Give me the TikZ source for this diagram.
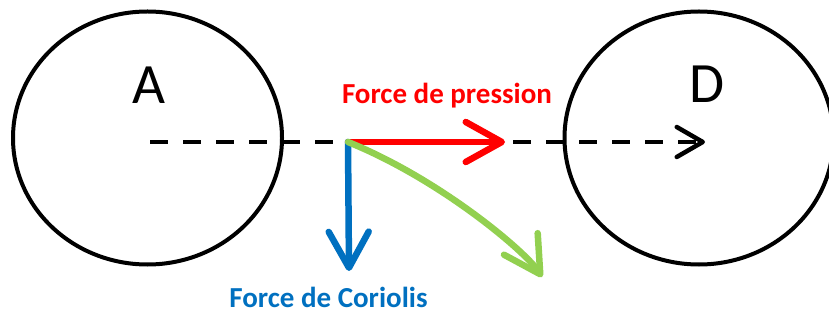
\documentclass[tikz,border=0pt]{standalone}
\usepackage{fontspec}
\setmainfont{Carlito}
\usetikzlibrary{arrows.meta,shapes.geometric}
\definecolor{forcered}{RGB}{255,0,0}
\definecolor{forceblue}{RGB}{0,112,192}
\definecolor{forcegreen}{RGB}{146,208,80}
\begin{document}
\begin{tikzpicture}[x=1pt,y=-1pt,
  zone/.style={ellipse,draw=black,line width=4pt,minimum width=269pt,minimum height=253pt,inner sep=0pt},
  zonelabel/.style={anchor=base,font=\fontsize{57}{57}\selectfont},
  forcelabel/.style={anchor=base,font=\bfseries\fontsize{29}{29}\selectfont},
  path/.style={line width=4.5pt,dash pattern=on 18pt off 15pt,
    -{Straight Barb[length=26pt,width=30pt,round]}},
  force/.style={line width=6.5pt,line cap=round,
    -{Straight Barb[length=36pt,width=40pt,round]}}]
  \useasboundingbox (0,0) rectangle (829,320);

  % the two zones
  \node[zone] (A) at (147.5,138) {};
  \node[zone] (D) at (699,138) {};
  \node[zonelabel] (labA) at (149,104) {A};
  \node[zonelabel] (labD) at (707.5,103) {D};

  % straight route from A towards D
  \coordinate (start) at (150,142);
  \coordinate (finish) at (705,142);
  \draw[path] (start) -- (finish);

  % forces acting on the moving parcel
  \coordinate (O) at (348,142);
  \coordinate (Pend) at (505,142);
  \coordinate (Cend) at (349,271);
  \coordinate (Tend) at (542,277);
  \draw[force,draw=forcered] (O) -- (Pend);
  \draw[force,draw=forceblue] (O) -- (Cend);
  \draw[force,draw=forcegreen] (O) .. controls (440.7,179.5) and (526,252) .. (Tend);

  \node[forcelabel,text=forcered] (lp) at (447,104) {Force de pression};
  \node[forcelabel,text=forceblue] (lc) at (328.5,307) {Force de Coriolis};
\end{tikzpicture}
\end{document}
